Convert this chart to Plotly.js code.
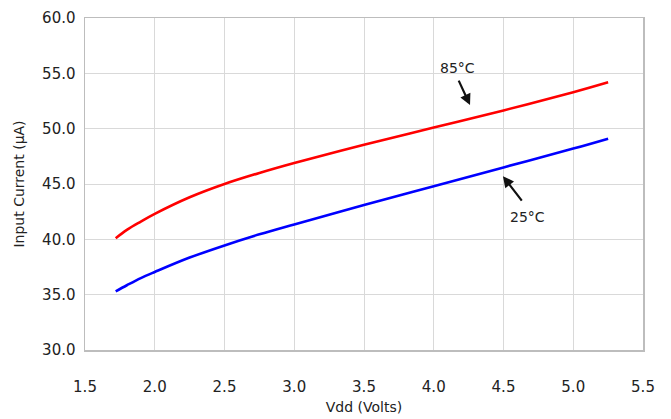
<!DOCTYPE html>
<html><head><meta charset="utf-8">
<script src="https://cdn.plot.ly/plotly-3.0.1.min.js"></script>
<style>html,body{margin:0;padding:0;background:#fff}</style>
</head><body><div id="chart" style="width:671px;height:419px"></div>
<script>
const vdd = [1.72, 1.8, 1.9, 2.0, 2.25, 2.5, 2.75, 3.0, 3.5, 4.0, 4.5, 5.0, 5.25];
const current85 = [40.1, 40.85, 41.6, 42.3, 43.8, 45.0, 46.0, 46.9, 48.55, 50.1, 51.65, 53.3, 54.2];
const current25 = [35.3, 35.85, 36.5, 37.05, 38.35, 39.45, 40.45, 41.35, 43.1, 44.8, 46.5, 48.2, 49.1];
const xTicks = [1.5, 2.0, 2.5, 3.0, 3.5, 4.0, 4.5, 5.0, 5.5];
const yTicks = [30, 35, 40, 45, 50, 55, 60];
const labels = ['85°C', '25°C'];

const font = {family: '"DejaVu Sans", sans-serif', color: '#222', size: 14};
const traces = [
  {x: vdd, y: current85, mode: 'lines', line: {color: '#ff0000', width: 2.6, shape: 'spline', smoothing: 1}, name: labels[0]},
  {x: vdd, y: current25, mode: 'lines', line: {color: '#0000ff', width: 2.6, shape: 'spline', smoothing: 1}, name: labels[1]}
];
const layout = {
  width: 671, height: 419,
  margin: {l: 85, r: 28, t: 18, b: 69},
  showlegend: false,
  paper_bgcolor: '#fff', plot_bgcolor: '#fff',
  font: font,
  xaxis: {range: [1.5, 5.5], tickvals: xTicks, ticktext: xTicks.map(v => v.toFixed(1)),
    showgrid: true, gridcolor: '#d9d9d9', gridwidth: 1, zeroline: false,
    showline: true, linecolor: '#bdbdbd', linewidth: 1.5, mirror: true, ticks: '',
    ticklabelstandoff: 22,
    tickfont: {size: 15}, title: {text: 'Vdd (Volts)', font: {size: 14}, standoff: 7}},
  yaxis: {range: [30, 60], tickvals: yTicks, ticktext: yTicks.map(v => v.toFixed(1)),
    showgrid: true, gridcolor: '#d9d9d9', gridwidth: 1, zeroline: false,
    showline: true, linecolor: '#bdbdbd', linewidth: 1.5, mirror: true, ticks: '',
    ticklabelstandoff: 5,
    tickfont: {size: 15}, title: {text: 'Input Current (μA)', font: {size: 14}, standoff: 14}},
  annotations: [
    {x: 4.17, y: 55.48, text: labels[0], showarrow: false, font: {size: 14}},
    {x: 4.26, y: 52.13, text: '', showarrow: true, arrowhead: 2, arrowsize: 1, arrowwidth: 2.2, arrowcolor: '#111', ax: -12, ay: -26},
    {x: 4.67, y: 42.0, text: labels[1], showarrow: false, font: {size: 14}},
    {x: 4.496, y: 45.71, text: '', showarrow: true, arrowhead: 2, arrowsize: 1, arrowwidth: 2.2, arrowcolor: '#111', ax: 20, ay: 26}
  ]
};
Plotly.newPlot('chart', traces, layout, {displayModeBar: false, staticPlot: true});
</script></body></html>
